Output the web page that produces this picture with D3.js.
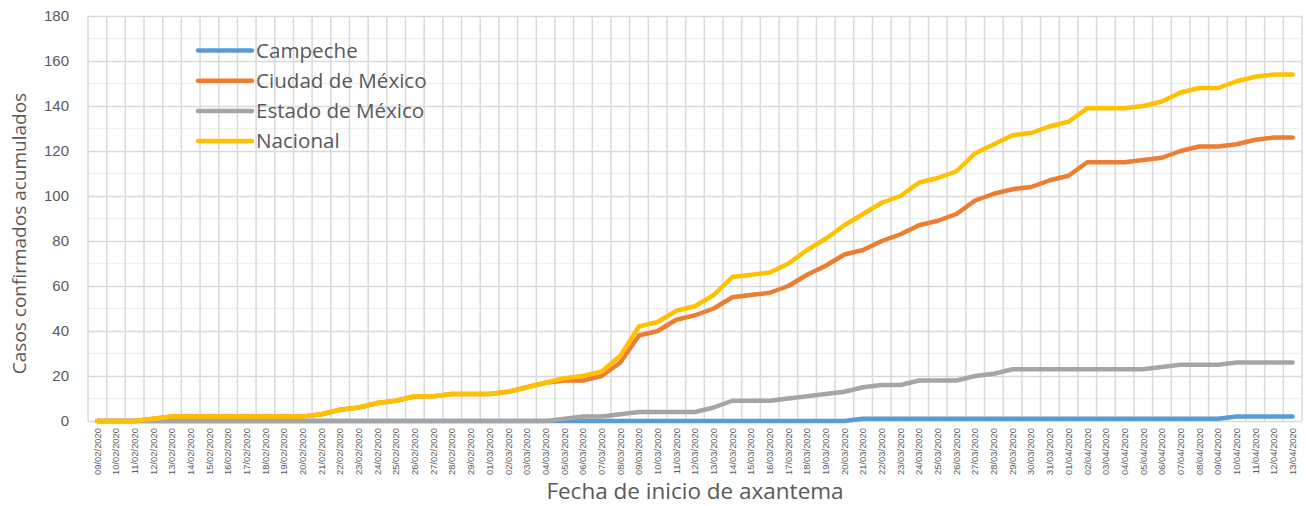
<!DOCTYPE html>
<html>
<head>
<meta charset="utf-8">
<script src="https://cdn.jsdelivr.net/npm/d3@7"></script>
<style>
body{margin:0;background:#fff;}
svg{font-family:"Open Sans","Noto Sans","Liberation Sans",sans-serif;}
</style>
</head>
<body>
<svg width="1306" height="506"></svg>
<script>
// fechas (categorias del eje x)
var fechas = ["09/02/2020","10/02/2020","11/02/2020","12/02/2020","13/02/2020","14/02/2020","15/02/2020","16/02/2020","17/02/2020","18/02/2020","19/02/2020","20/02/2020","21/02/2020","22/02/2020","23/02/2020","24/02/2020","25/02/2020","26/02/2020","27/02/2020","28/02/2020","29/02/2020",
  "01/03/2020","02/03/2020","03/03/2020","04/03/2020","05/03/2020","06/03/2020","07/03/2020","08/03/2020","09/03/2020","10/03/2020","11/03/2020","12/03/2020","13/03/2020","14/03/2020","15/03/2020","16/03/2020","17/03/2020","18/03/2020","19/03/2020","20/03/2020","21/03/2020","22/03/2020","23/03/2020","24/03/2020","25/03/2020","26/03/2020","27/03/2020","28/03/2020","29/03/2020","30/03/2020","31/03/2020",
  "01/04/2020","02/04/2020","03/04/2020","04/04/2020","05/04/2020","06/04/2020","07/04/2020","08/04/2020","09/04/2020","10/04/2020","11/04/2020","12/04/2020","13/04/2020"];

var campeche = [0,0,0,0,0,0,0,0,0,0,0,0,0,0,0,0,0,0,0,0,0,
  0,0,0,0,0,0,0,0,0,0,0,0,0,0,0,0,0,0,0,0,1,1,1,1,1,1,1,1,1,1,1,
  1,1,1,1,1,1,1,1,1,2,2,2,2];
var cdmx = [0,0,0,1,2,2,2,2,2,2,2,2,3,5,6,8,9,11,11,12,12,
  12,13,15,17,18,18,20,26,38,40,45,47,50,55,56,57,60,65,69,74,76,80,83,87,89,92,98,101,103,104,107,
  109,115,115,115,116,117,120,122,122,123,125,126,126];
var edomex = [0,0,0,0,0,0,0,0,0,0,0,0,0,0,0,0,0,0,0,0,0,
  0,0,0,0,1,2,2,3,4,4,4,4,6,9,9,9,10,11,12,13,15,16,16,18,18,18,20,21,23,23,23,
  23,23,23,23,23,24,25,25,25,26,26,26,26];
var nacional = [0,0,0,1,2,2,2,2,2,2,2,2,3,5,6,8,9,11,11,12,12,
  12,13,15,17,19,20,22,29,42,44,49,51,56,64,65,66,70,76,81,87,92,97,100,106,108,111,119,123,127,128,131,
  133,139,139,139,140,142,146,148,148,151,153,154,154];

var nombres = ["Campeche","Ciudad de México","Estado de México","Nacional"];
var colores = ["#5b9bd5","#ed7d31","#a5a5a5","#ffc000"];
var series = [campeche,cdmx,edomex,nacional];
var yTicks = [0,20,40,60,80,100,120,140,160,180];

var marge = {top:16,bottom:85,left:88,right:4};
var svg = d3.select("svg");
var width = +svg.attr("width");
var height = +svg.attr("height");
var w = width-marge.left-marge.right;
var h = height-marge.top-marge.bottom;
var g = svg.append("g")
    .attr("transform","translate("+marge.left+","+marge.top+")");

var xScale = d3.scaleBand()
    .domain(fechas)
    .range([0,w]);
var yScale = d3.scaleLinear()
    .domain([0,180])
    .range([h,0]);

// lineas de cuadricula menores (cada 10)
g.append("g")
    .selectAll("line")
    .data(d3.range(10,180,20))
    .enter()
    .append("line")
    .attr("x1",0).attr("x2",w)
    .attr("y1",d=>yScale(d)).attr("y2",d=>yScale(d))
    .attr("stroke","#f0f0f0")
    .attr("stroke-width",1.5);

// cuadricula vertical, entre categorias
g.append("g")
    .selectAll("line")
    .data(fechas.concat(["fin"]))
    .enter()
    .append("line")
    .attr("x1",(d,i)=>i<fechas.length ? xScale(d) : w)
    .attr("x2",(d,i)=>i<fechas.length ? xScale(d) : w)
    .attr("y1",0).attr("y2",h)
    .attr("stroke","#d9d9d9")
    .attr("stroke-width",1.5);

// eje y con cuadricula mayor
var yAxis = d3.axisLeft(yScale)
    .tickValues(yTicks)
    .tickSize(-w)
    .tickPadding(19);
var gy = g.append("g").call(yAxis);
gy.select(".domain").remove();
gy.selectAll(".tick line")
    .attr("stroke","#d9d9d9")
    .attr("stroke-width",1.5);
gy.selectAll("text")
    .attr("fill","#595959")
    .style("font-size","15px");

// eje x
var xAxis = d3.axisBottom(xScale).tickSize(0).tickPadding(0);
var gx = g.append("g")
    .attr("transform","translate(0,"+h+")")
    .call(xAxis);
gx.select(".domain").remove();
gx.selectAll("text")
    .style("text-anchor","end")
    .attr("dy","0.35em")
    .attr("y",0)
    .attr("transform","translate(0,7) rotate(-90)")
    .attr("fill","#595959")
    .style("font-size","9.4px");

// lineas de las series
var line = d3.line()
    .x((d,i)=>xScale(fechas[i])+xScale.bandwidth()/2)
    .y(d=>yScale(d));
g.selectAll(".serie")
    .data(series)
    .enter()
    .append("path")
    .attr("class","serie")
    .attr("d",d=>line(d))
    .attr("fill","none")
    .attr("stroke",(d,i)=>colores[i])
    .attr("stroke-width",4.5)
    .attr("stroke-linejoin","round")
    .attr("stroke-linecap","round");

// leyenda
var leg = svg.append("g").attr("transform","translate(198,50.5)");
var items = leg.selectAll("g")
    .data(nombres)
    .enter()
    .append("g")
    .attr("transform",(d,i)=>"translate(0,"+(i*30.2)+")");
items.append("line")
    .attr("x1",0).attr("x2",54)
    .attr("y1",0).attr("y2",0)
    .attr("stroke",(d,i)=>colores[i])
    .attr("stroke-width",4.5)
    .attr("stroke-linecap","round");
items.append("text")
    .attr("x",58)
    .attr("dy","0.35em")
    .attr("fill","#595959")
    .style("font-size","20.6px")
    .text(d=>d);

// titulos de los ejes
svg.append("text")
    .attr("transform","translate(26,"+(marge.top+h/2+15)+") rotate(-90)")
    .attr("text-anchor","middle")
    .attr("fill","#595959")
    .style("font-size","19px")
    .text("Casos confirmados acumulados");
svg.append("text")
    .attr("x",marge.left+w/2)
    .attr("y",499)
    .attr("text-anchor","middle")
    .attr("fill","#595959")
    .style("font-size","22.5px")
    .text("Fecha de inicio de axantema");
</script>
</body>
</html>
